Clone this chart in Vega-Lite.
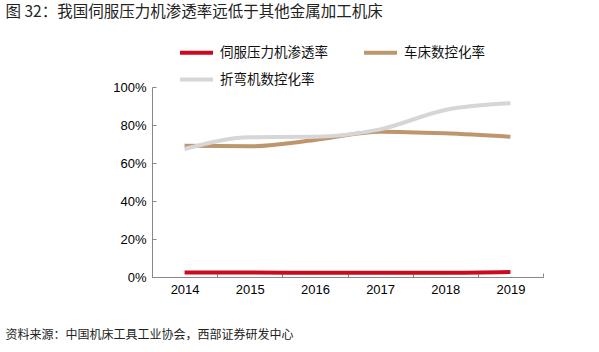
{
  "$schema": "https://vega.github.io/schema/vega-lite/v6.json",
  "width": 391,
  "height": 190,
  "autosize": {"type": "none"},
  "padding": {"left": 152, "top": 87, "right": 56, "bottom": 75},
  "background": "white",
  "config": {
    "view": {"stroke": null},
    "font": "Liberation Sans"
  },
  "data": {
    "values": [
      {"year": "2014", "series": "伺服压力机渗透率", "value": 0.024},
      {"year": "2015", "series": "伺服压力机渗透率", "value": 0.024},
      {"year": "2016", "series": "伺服压力机渗透率", "value": 0.022},
      {"year": "2017", "series": "伺服压力机渗透率", "value": 0.023},
      {"year": "2018", "series": "伺服压力机渗透率", "value": 0.022},
      {"year": "2019", "series": "伺服压力机渗透率", "value": 0.026},
      {"year": "2014", "series": "车床数控化率", "value": 0.691},
      {"year": "2015", "series": "车床数控化率", "value": 0.688},
      {"year": "2016", "series": "车床数控化率", "value": 0.721},
      {"year": "2017", "series": "车床数控化率", "value": 0.765},
      {"year": "2018", "series": "车床数控化率", "value": 0.756},
      {"year": "2019", "series": "车床数控化率", "value": 0.738},
      {"year": "2014", "series": "折弯机数控化率", "value": 0.674},
      {"year": "2015", "series": "折弯机数控化率", "value": 0.735},
      {"year": "2016", "series": "折弯机数控化率", "value": 0.738},
      {"year": "2017", "series": "折弯机数控化率", "value": 0.777},
      {"year": "2018", "series": "折弯机数控化率", "value": 0.879},
      {"year": "2019", "series": "折弯机数控化率", "value": 0.914}
    ]
  },
  "mark": {"type": "line", "strokeWidth": 4, "interpolate": "monotone"},
  "encoding": {
    "x": {
      "field": "year",
      "type": "ordinal",
      "bandPosition": 0.5,
      "scale": {"type": "band", "paddingInner": 0, "paddingOuter": 0},
      "axis": {
        "title": "资料来源：中国机床工具工业协会，西部证券研发中心",
        "titleFont": "Noto Sans CJK SC",
        "titleFontSize": 12,
        "titleFontWeight": "normal",
        "titleColor": "#222222",
        "titleX": -147,
        "titleY": 57,
        "titleAlign": "left",
        "titleBaseline": "middle",
        "titleAnchor": null,
        "labelAngle": 0,
        "labelFont": "Liberation Sans",
        "labelFontSize": 13,
        "labelColor": "#000000",
        "labelPadding": 10,
        "tickBand": "extent",
        "tickSize": -4,
        "tickColor": "#888888",
        "domainColor": "#888888",
        "grid": false
      }
    },
    "y": {
      "field": "value",
      "type": "quantitative",
      "scale": {"domain": [0, 1], "nice": false},
      "axis": {
        "values": [0, 0.2, 0.4, 0.6, 0.8, 1],
        "format": ".0%",
        "title": "图 32：我国伺服压力机渗透率远低于其他金属加工机床",
        "titleFont": "Noto Sans CJK SC",
        "titleFontSize": 15.5,
        "titleFontWeight": "normal",
        "titleColor": "#222222",
        "titleAngle": 0,
        "titleX": -147,
        "titleY": -76,
        "titleAlign": "left",
        "titleBaseline": "middle",
        "titleAnchor": null,
        "labelFont": "Liberation Sans",
        "labelFontSize": 13,
        "labelColor": "#000000",
        "labelPadding": 10,
        "tickSize": -4,
        "tickColor": "#888888",
        "domainColor": "#888888",
        "grid": false
      }
    },
    "color": {
      "field": "series",
      "type": "nominal",
      "scale": {
        "domain": ["伺服压力机渗透率", "车床数控化率", "折弯机数控化率"],
        "range": ["#CC0A1E", "#BE966E", "#D6D6D6"]
      },
      "legend": {
        "title": null,
        "orient": "none",
        "direction": "horizontal",
        "legendX": 26,
        "legendY": -53,
        "columns": 2,
        "columnPadding": 28,
        "rowPadding": -18,
        "symbolType": "stroke",
        "symbolSize": 1089,
        "symbolStrokeWidth": 4,
        "labelFont": "Noto Sans CJK SC",
        "labelFontSize": 13.5,
        "labelColor": "#111111",
        "labelOffset": 5,
        "labelLimit": 200
      }
    }
  }
}
